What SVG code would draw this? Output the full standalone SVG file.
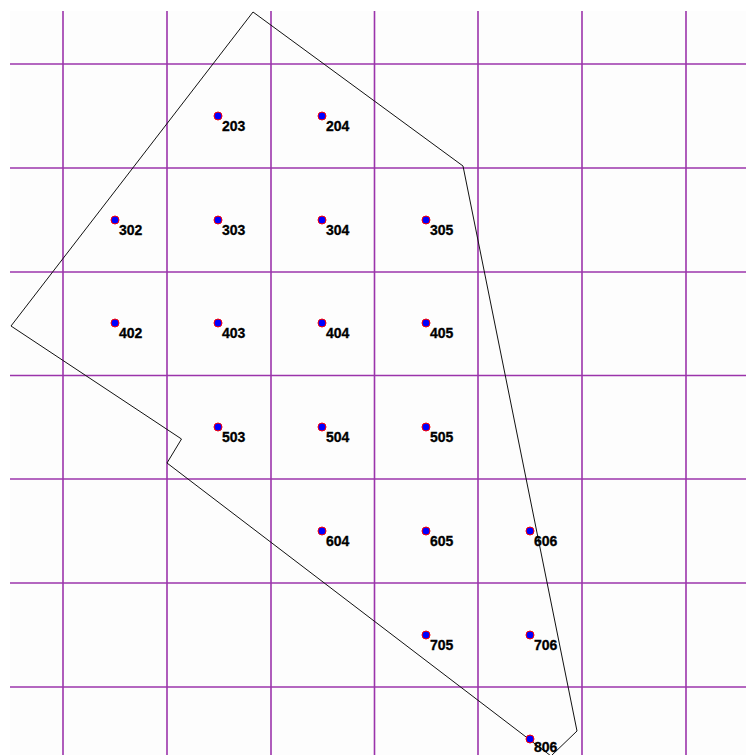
<svg xmlns="http://www.w3.org/2000/svg" width="746" height="755" viewBox="0 0 746 755">
<style>
.grid line{stroke:#9b34ab;stroke-width:1.6}
.pt circle{fill:#0000ff;stroke:#ff0000;stroke-width:1}
.pt text{font-family:"Liberation Sans",Arial,sans-serif;font-weight:bold;font-size:14px;fill:#000;stroke:#000;stroke-width:0.3}
.boundary{fill:none;stroke:#111;stroke-width:1}
</style>
<rect x="0" y="0" width="746" height="755" fill="#ffffff"/>
<rect x="10" y="11" width="736" height="744" fill="#fdfdfd"/>
<g id="grid" class="grid">
<line x1="63" y1="11" x2="63" y2="755"/>
<line x1="167" y1="11" x2="167" y2="755"/>
<line x1="271" y1="11" x2="271" y2="755"/>
<line x1="374.5" y1="11" x2="374.5" y2="755"/>
<line x1="478" y1="11" x2="478" y2="755"/>
<line x1="582" y1="11" x2="582" y2="755"/>
<line x1="686" y1="11" x2="686" y2="755"/>
<line x1="10" y1="64" x2="746" y2="64"/>
<line x1="10" y1="168" x2="746" y2="168"/>
<line x1="10" y1="272" x2="746" y2="272"/>
<line x1="10" y1="375.5" x2="746" y2="375.5"/>
<line x1="10" y1="479" x2="746" y2="479"/>
<line x1="10" y1="583" x2="746" y2="583"/>
<line x1="10" y1="687" x2="746" y2="687"/>
</g>
<g id="connectors">
<polygon class="boundary" points="253,12 463,166 577,731 551,756 167,463 181.5,439 11,326"/>
</g>
<g id="n203" class="pt"><circle cx="218" cy="116" r="4"/><text x="222" y="131">203</text></g>
<g id="n204" class="pt"><circle cx="322" cy="116" r="4"/><text x="326" y="131">204</text></g>
<g id="n302" class="pt"><circle cx="115" cy="220" r="4"/><text x="119" y="235">302</text></g>
<g id="n303" class="pt"><circle cx="218" cy="220" r="4"/><text x="222" y="235">303</text></g>
<g id="n304" class="pt"><circle cx="322" cy="220" r="4"/><text x="326" y="235">304</text></g>
<g id="n305" class="pt"><circle cx="426" cy="220" r="4"/><text x="430" y="235">305</text></g>
<g id="n402" class="pt"><circle cx="115" cy="323" r="4"/><text x="119" y="338">402</text></g>
<g id="n403" class="pt"><circle cx="218" cy="323" r="4"/><text x="222" y="338">403</text></g>
<g id="n404" class="pt"><circle cx="322" cy="323" r="4"/><text x="326" y="338">404</text></g>
<g id="n405" class="pt"><circle cx="426" cy="323" r="4"/><text x="430" y="338">405</text></g>
<g id="n503" class="pt"><circle cx="218" cy="427" r="4"/><text x="222" y="442">503</text></g>
<g id="n504" class="pt"><circle cx="322" cy="427" r="4"/><text x="326" y="442">504</text></g>
<g id="n505" class="pt"><circle cx="426" cy="427" r="4"/><text x="430" y="442">505</text></g>
<g id="n604" class="pt"><circle cx="322" cy="531" r="4"/><text x="326" y="546">604</text></g>
<g id="n605" class="pt"><circle cx="426" cy="531" r="4"/><text x="430" y="546">605</text></g>
<g id="n606" class="pt"><circle cx="530" cy="531" r="4"/><text x="534" y="546">606</text></g>
<g id="n705" class="pt"><circle cx="426" cy="635" r="4"/><text x="430" y="650">705</text></g>
<g id="n706" class="pt"><circle cx="530" cy="635" r="4"/><text x="534" y="650">706</text></g>
<g id="n806" class="pt"><circle cx="530" cy="739" r="4"/><text x="534" y="752">806</text></g>
</svg>
